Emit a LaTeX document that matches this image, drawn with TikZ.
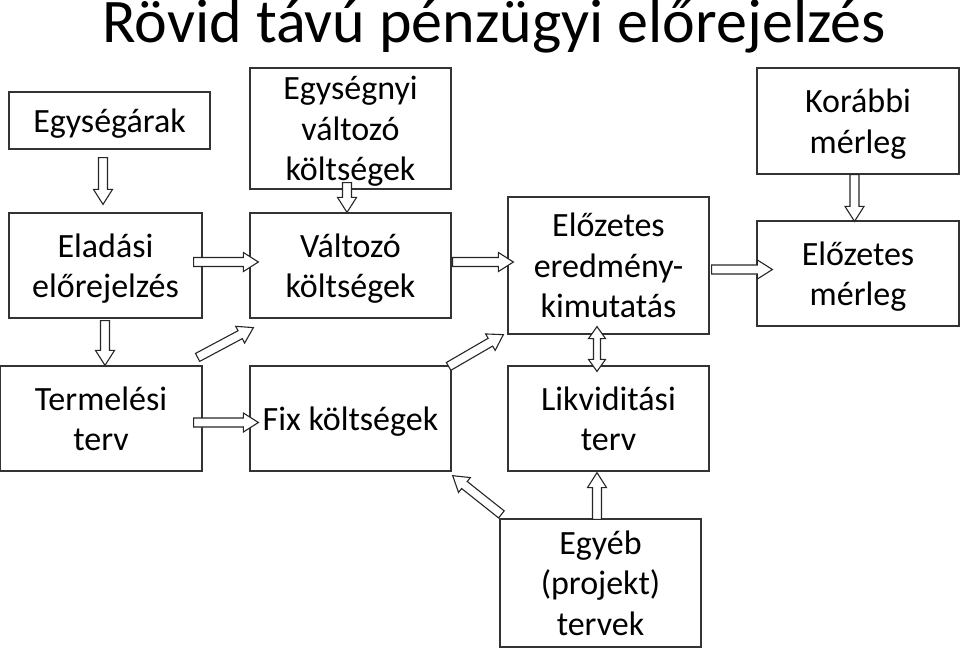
\documentclass[tikz,border=0pt]{standalone}
\usepackage{fontspec}
\setmainfont{Carlito}
\usetikzlibrary{calc}
\tikzset{
  box/.style={draw=black!80, line width=1.2pt, align=center, inner sep=0pt,
    font=\fontsize{34}{40.5}\selectfont, text=black, text depth=0pt},
  barrowstyle/.style={draw=black!85, line width=1.1pt, fill=white, line join=miter},
  titlestyle/.style={font=\fontsize{62}{70}\selectfont, inner sep=0pt, anchor=base}
}
\newcommand\barrowcalc[2]{%
  \path let \p1=(#1), \p2=(#2) in \pgfextra{%
    \pgfmathparse{atan2(\y2-\y1,\x2-\x1)}\xdef\bang{\pgfmathresult}%
    \pgfmathparse{veclen(\x2-\x1,\y2-\y1)}\xdef\blen{\pgfmathresult}%
    \pgfmathparse{\blen-15}\xdef\bhb{\pgfmathresult}};}
\newcommand\barrow[2]{%
  \barrowcalc{#1}{#2}%
  \begin{scope}[shift={(#1)}, rotate=\bang]
    \draw[barrowstyle] (0pt,-4.5pt) -- (\bhb pt,-4.5pt) -- (\bhb pt,-9.5pt) -- (\blen pt,0pt)
      -- (\bhb pt,9.5pt) -- (\bhb pt,4.5pt) -- (0pt,4.5pt) -- cycle;
  \end{scope}}
\newcommand\dbarrow[2]{%
  \barrowcalc{#1}{#2}%
  \begin{scope}[shift={(#1)}, rotate=\bang]
    \draw[barrowstyle] (0pt,0pt) -- (12pt,-8.5pt) -- (12pt,-3.5pt) -- (\blen pt-12pt,-3.5pt)
      -- (\blen pt-12pt,-8.5pt) -- (\blen pt,0pt) -- (\blen pt-12pt,8.5pt) -- (\blen pt-12pt,3.5pt)
      -- (12pt,3.5pt) -- (12pt,8.5pt) -- cycle;
  \end{scope}}
\begin{document}
\begin{tikzpicture}[x=1pt,y=-1pt]
\useasboundingbox (0,0) rectangle (960,649);
\node[titlestyle] (title) at (494,42.5) {Rövid távú pénzügyi előrejelzés};

\node[box, minimum width=201, minimum height=57] (egysegarak) at (109.5,120.5) {Egységárak};
\node[box, minimum width=201, minimum height=121] (egysegnyi) at (350.5,128.5) {Egységnyi\\változó\\költségek};
\node[box, minimum width=202, minimum height=106] (korabbi) at (858,121) {Korábbi\\mérleg};
\node[box, minimum width=193, minimum height=105] (eladasi) at (105.5,265.5) {Eladási\\előrejelzés};
\node[box, minimum width=201, minimum height=105] (valtozo) at (350.5,265.5) {Változó\\költségek};
\node[box, minimum width=201, minimum height=137] (eredmeny) at (608.5,265.5) {Előzetes\\eredmény-\\kimutatás};
\node[box, minimum width=202, minimum height=105] (merleg) at (858,273.5) {Előzetes\\mérleg};
\node[box, minimum width=202, minimum height=105] (termelesi) at (101,418.5) {Termelési\\terv};
\node[box, minimum width=201, minimum height=105] (fix) at (350.5,418.5) {Fix költségek};
\node[box, minimum width=201, minimum height=105] (likvid) at (608.5,418.5) {Likviditási\\terv};
\node[box, minimum width=201, minimum height=128] (egyeb) at (600.5,583) {Egyéb\\(projekt)\\tervek};

\barrow{$(egysegarak.south -| eladasi.north)+(-2.5,8)$}{$(eladasi.north)+(-2.5,-8)$}
\barrow{$(egysegnyi.south)+(-3.5,-7)$}{$(valtozo.north)+(-3.5,0)$}
\barrow{$(korabbi.south)+(-3.5,0)$}{$(merleg.north)+(-3.5,1)$}
\barrow{$(eladasi.south)+(-0.5,2)$}{$(termelesi.north -| eladasi.south)+(-0.5,0)$}
\barrow{$(eladasi.east)+(-9,-3.5)$}{$(valtozo.west)+(9,-3.5)$}
\barrow{$(valtozo.east)+(1,-3.5)$}{$(eredmeny.west)+(6,-3.5)$}
\barrow{$(eredmeny.east)+(2,4)$}{$(merleg.west)+(16,-4)$}
\barrow{$(termelesi.east)+(-9,4)$}{$(fix.west)+(9,4)$}
\barrow{$(termelesi.north east)+(-5,-8)$}{$(valtozo.south west)+(4,9)$}
\barrow{$(fix.north east)+(-3,1)$}{$(eredmeny.south west)+(-4,0)$}
\dbarrow{$(eredmeny.south)+(-11.5,-8)$}{$(likvid.north)+(-11.5,6)$}
\barrow{$(egyeb.north)+(-3.5,1)$}{$(likvid.south)+(-11.5,1)$}
\barrow{$(egyeb.north west)+(2,-4)$}{$(fix.south east)+(1,4)$}
\end{tikzpicture}
\end{document}
